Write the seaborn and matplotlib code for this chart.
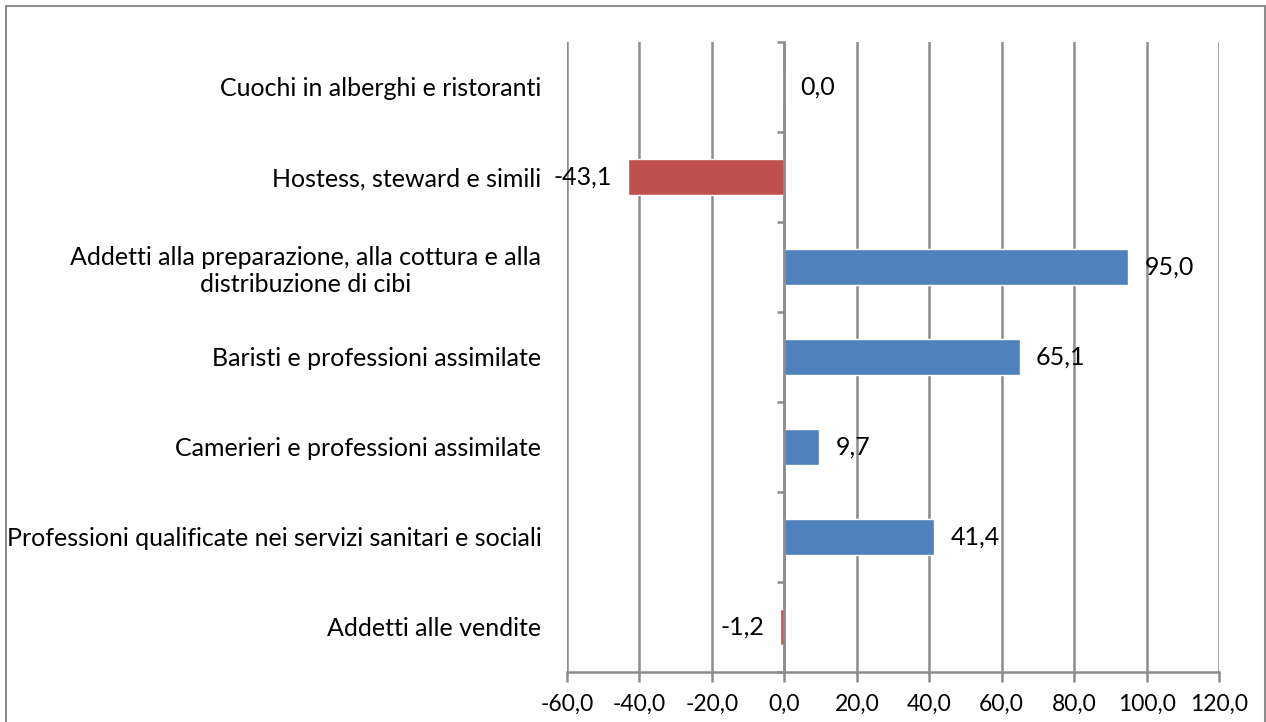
import matplotlib
matplotlib.use("Agg")
import matplotlib.pyplot as plt
import seaborn as sns
import pandas as pd
from matplotlib.patches import Rectangle
from matplotlib.ticker import FuncFormatter, FixedLocator

categories = [
    "Cuochi in alberghi e ristoranti",
    "Hostess, steward e simili",
    "Addetti alla preparazione, alla cottura e alla\ndistribuzione di cibi",
    "Baristi e professioni assimilate",
    "Camerieri e professioni assimilate",
    "Professioni qualificate nei servizi sanitari e sociali",
    "Addetti alle vendite",
]
values = [0.0, -43.1, 95.0, 65.1, 9.7, 41.4, -1.2]
x_ticks = [-60, -40, -20, 0, 20, 40, 60, 80, 100, 120]

BLUE = "#4F81BD"
RED = "#C0504D"
GRID = "#8C8C8C"
FONT = "Lato"
FS = 18

sns.set_theme(style="white")
plt.rcParams["font.family"] = [FONT, "DejaVu Sans"]

df = pd.DataFrame({"cat": categories, "val": values})
palette = {c: (RED if v < 0 else BLUE) for c, v in zip(categories, values)}

fig = plt.figure(figsize=(12.66, 7.22), dpi=100)
ax = fig.add_axes([567 / 1266, 50 / 722, (1219 - 567) / 1266, (672 - 42) / 722])

sns.barplot(data=df, x="val", y="cat", hue="cat", palette=palette, order=categories,
            orient="h", width=0.4, legend=False, ax=ax, saturation=1, zorder=3)

ax.set_xlim(-60, 120)
ax.set_ylim(len(categories) - 0.5, -0.5)
ax.set_xlabel("")
ax.set_ylabel("")

ax.xaxis.set_major_locator(FixedLocator(x_ticks))
ax.xaxis.set_major_formatter(FuncFormatter(lambda v, p: f"{v:.1f}".replace(".", ",")))
ax.grid(axis="x", color=GRID, linewidth=1.8, zorder=0)
ax.grid(axis="y", visible=False)
ax.set_axisbelow(True)

for s in ["top", "right", "left"]:
    ax.spines[s].set_visible(False)
ax.spines["bottom"].set_color(GRID)
ax.spines["bottom"].set_linewidth(1.8)
ax.tick_params(axis="x", direction="out", length=7.5, width=1.8, color=GRID,
               labelsize=16.5, pad=8, labelcolor="black", bottom=True)
ax.tick_params(axis="y", length=0, labelsize=FS, pad=18.5, labelcolor="black")
for lab in ax.get_yticklabels():
    lab.set_multialignment("center")

# zero axis with category-boundary ticks
ax2 = ax.twinx()
ax2.set_ylim(ax.get_ylim())
for s in ["top", "right", "bottom"]:
    ax2.spines[s].set_visible(False)
ax2.spines["left"].set_position(("data", 0))
ax2.spines["left"].set_color(GRID)
ax2.spines["left"].set_linewidth(1.8)
ax2.yaxis.set_ticks_position("left")
ax2.set_yticks([i - 0.5 for i in range(len(categories) + 1)])
ax2.set_yticklabels([])
ax2.tick_params(axis="y", direction="out", length=5, width=1.8, color=GRID)

# value labels
for i, v in enumerate(values):
    txt = f"{v:.1f}".replace(".", ",")
    if v < 0:
        ax.annotate(txt, (v, i), xytext=(-11.5, 0), textcoords="offset points",
                    ha="right", va="center", fontsize=FS, color="black", zorder=5)
    else:
        ax.annotate(txt, (v, i), xytext=(11.5, 0), textcoords="offset points",
                    ha="left", va="center", fontsize=FS, color="black", zorder=5)

# outer border
fig.patches.append(Rectangle((6 / 1266, -0.1), (1265 - 6) / 1266, 1.1 - 6 / 722,
                             transform=fig.transFigure, fill=False,
                             edgecolor="#8C8C8C", linewidth=1.5))

fig.savefig("out.png", dpi=100)
